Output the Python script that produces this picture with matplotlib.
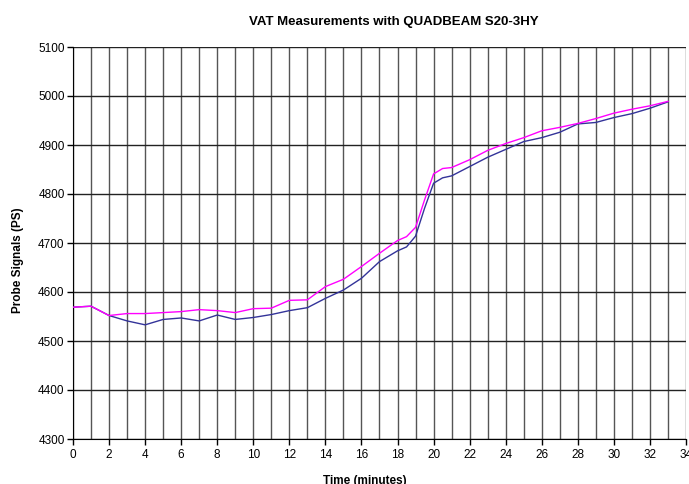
import matplotlib
matplotlib.use("Agg")
import matplotlib.pyplot as plt
from matplotlib.ticker import MultipleLocator

plt.rcParams['font.family'] = ['Liberation Sans', 'DejaVu Sans']

# time (minutes)
tempo = [0, 1, 2, 3, 4, 5, 6, 7, 8, 9, 10, 11, 12, 13, 14, 15, 16, 17, 18, 18.5,
         19, 19.5, 20, 20.5, 21, 22, 23, 24, 25, 26, 27, 28, 29, 30, 31, 32, 33]
# probe signals, magenta series
sinalA = [4569, 4571, 4552, 4556, 4556, 4558, 4560, 4564, 4562, 4558, 4566, 4567,
          4583, 4584, 4611, 4626, 4652, 4679, 4705, 4713, 4732, 4788, 4841, 4852,
          4854, 4870, 4889, 4903, 4915, 4929, 4936, 4944, 4954, 4965, 4973, 4980, 4989]
# probe signals, blue series
sinalB = [4569, 4571, 4552, 4541, 4533, 4544, 4547, 4541, 4553, 4544, 4548, 4554,
          4562, 4568, 4587, 4604, 4628, 4662, 4684, 4692, 4714, 4771, 4822, 4833,
          4837, 4856, 4875, 4891, 4907, 4915, 4926, 4943, 4946, 4956, 4964, 4975, 4988]

fig = plt.figure(figsize=(6.89, 4.84), dpi=100)
ax = fig.add_axes([73/689, 1-439/484, 613/689, 392/484])

ax.plot(tempo, sinalB, color='#333399', lw=1.0, zorder=3, solid_joinstyle='round')
ax.plot(tempo, sinalA, color='#ff00ff', lw=1.0, zorder=3, solid_joinstyle='round')

ax.set_xlim(0, 34)
ax.set_ylim(4300, 5100)
ax.xaxis.set_major_locator(MultipleLocator(2))
ax.xaxis.set_minor_locator(MultipleLocator(1))
ax.yaxis.set_major_locator(MultipleLocator(100))
ax.grid(True, which='both', axis='x', color='#555555', lw=1.0, zorder=0)
ax.grid(True, which='major', axis='y', color='#222222', lw=1.0, zorder=0)

for s in ['top', 'right']:
    ax.spines[s].set_visible(False)
ax.spines['left'].set_color('black')
ax.spines['bottom'].set_color('black')
ax.tick_params(axis='x', which='major', direction='out', length=4, width=1, labelsize=8.5, pad=3)
ax.tick_params(axis='x', which='minor', length=0)
ax.tick_params(axis='y', direction='out', length=4, width=1, labelsize=8.5, pad=2)

fig.text(394/689, 1-22/484, "VAT Measurements with QUADBEAM S20-3HY", ha='center', va='center',
         fontsize=9.5, fontweight='bold')
fig.text(18/689, 1-260/484, "Probe Signals (PS)", ha='center', va='center', rotation=90,
         fontsize=8.5, fontweight='bold')
fig.text(365/689, 1-481/484, "Time (minutes)", ha='center', va='center',
         fontsize=8.5, fontweight='bold')

fig.savefig("out.png", dpi=100)
